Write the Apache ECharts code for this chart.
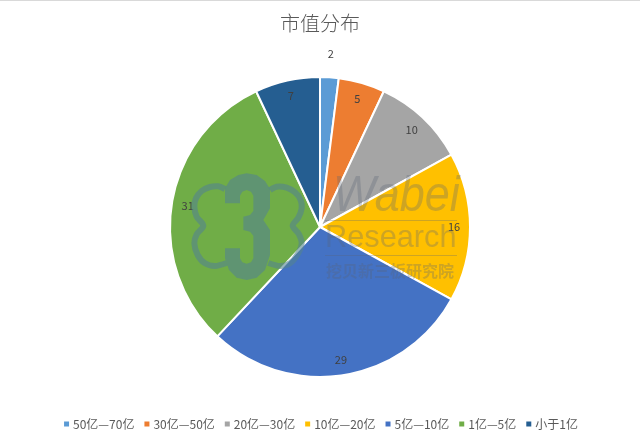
<!DOCTYPE html>
<html><head><meta charset="utf-8">
<style>html,body{margin:0;padding:0;background:#fff}#c{width:640px;height:446px}</style>
<script src="https://cdn.jsdelivr.net/npm/echarts@6/dist/echarts.min.js"></script>
</head><body><div id="c"></div>
<script>
const categories = ['50亿—70亿','30亿—50亿','20亿—30亿','10亿—20亿','5亿—10亿','1亿—5亿','小于1亿'];
const values = [2,5,10,16,29,31,7];
const colors = ['#5B9BD5','#ED7D31','#A5A5A5','#FFC000','#4472C4','#70AD47','#255E91'];
const font = '"Noto Sans CJK SC","Noto Sans",sans-serif';
const cx = 320, cy = 227, R = 150;
const total = values.reduce((a,b)=>a+b,0);
function labelPos(i){
  let before = 0; for(let k=0;k<i;k++) before += values[k];
  const a = (before + values[i]/2)/total*2*Math.PI;
  const r = i===0 ? 174 : 134;
  return {x: cx + r*Math.sin(a), y: cy - r*Math.cos(a)};
}
const wm = 'rgba(90,100,115,0.3)';
const logo = 'rgba(83,132,143,0.6)';
const Z = 100;
const P = pts => pts.map(p=>[185+p[0]/3,165+p[1]/3]);
const three = P([[120,115],[120,70],[135,45],[160,30],[185,25],[215,30],[240,48],[255,72],[255,130],[235,165],[255,195],[255,270],[240,315],[215,338],[185,345],[155,338],[132,315],[120,280],[120,250],[165,250],[165,280],[172,292],[185,296],[198,292],[205,280],[205,212],[195,200],[175,195],[175,155],[195,150],[205,138],[205,92],[198,80],[185,75],[172,80],[165,92],[165,115]]);
const cloverL = P([[120,72],[100,64],[75,66],[50,78],[33,100],[28,125],[35,155],[55,182],[35,208],[28,235],[38,270],[60,295],[90,303],[125,294]]);
const cloverR = P([[255,75],[275,65],[305,68],[330,82],[347,105],[350,130],[340,158],[323,182],[342,208],[350,235],[338,268],[315,295],[285,303],[250,294]]);
const chart = echarts.init(document.getElementById('c'));
chart.setOption({
  animation:false,
  backgroundColor:'#fff',
  title:{text:'市值分布',left:'center',top:8,textStyle:{fontFamily:font,fontSize:20,fontWeight:300,color:'#595959'}},
  legend:{bottom:11,left:'center',itemWidth:7,itemHeight:7,itemGap:8,icon:'rect',
    textStyle:{fontFamily:font,fontSize:12,color:'#595959',padding:[0,0,0,-2]}},
  series:[{type:'pie',center:[cx,cy],radius:[0,R],startAngle:90,clockwise:true,
    color:colors,
    data:categories.map((n,i)=>({name:n,value:values[i]})),
    itemStyle:{borderColor:'#fff',borderWidth:2},
    label:{show:true,position:'inside',formatter:'{c}',fontFamily:font,fontSize:11,color:'#404040'},
    labelLine:{show:false},
    labelLayout:p=>{const q=labelPos(p.dataIndex);return {x:q.x,y:q.y,align:'center',verticalAlign:'middle'};},
    emphasis:{disabled:true}
  }],
  graphic:{elements:[
    {type:'rect',z:Z,silent:true,shape:{x:0,y:0,width:640,height:1},style:{fill:'#d9d9d9'}},
    {type:'polyline',z:Z,silent:true,shape:{points:cloverL,smooth:0.3},style:{fill:'none',stroke:logo,lineWidth:6}},
    {type:'polyline',z:Z,silent:true,shape:{points:cloverR,smooth:0.3},style:{fill:'none',stroke:logo,lineWidth:6}},
    {type:'polygon',z:Z,silent:true,shape:{points:three},style:{fill:logo}},
    {type:'text',z:Z,silent:true,x:333,y:197,scaleX:0.9,style:{text:'Wabei',fontFamily:'"Liberation Sans"',fontStyle:'italic',fontSize:50,fill:wm,align:'left',verticalAlign:'middle'}},
    {type:'text',z:Z,silent:true,x:325,y:238,scaleX:0.96,style:{text:'Research',fontFamily:'"Liberation Sans"',fontSize:32,fill:wm,align:'left',verticalAlign:'middle'}},
    {type:'text',z:Z,silent:true,x:326,y:271,style:{text:'挖贝新三板研究院',fontFamily:font,fontWeight:'bold',fontSize:16,fill:wm,align:'left',verticalAlign:'middle'}},
    {type:'rect',z:Z,silent:true,shape:{x:325,y:220,width:132,height:1},style:{fill:wm}},
    {type:'rect',z:Z,silent:true,shape:{x:325,y:255,width:132,height:1},style:{fill:wm}}
  ]}
});
</script></body></html>
